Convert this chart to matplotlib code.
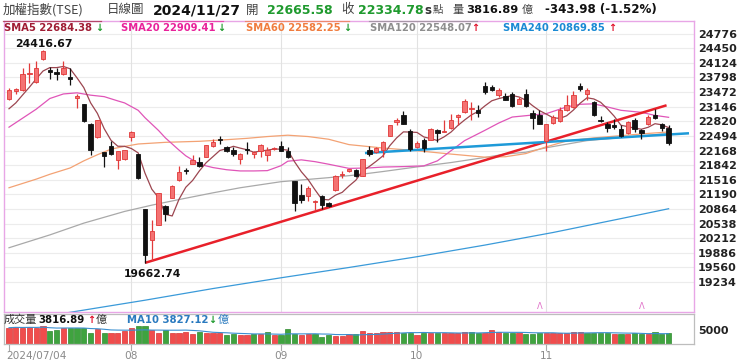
import numpy as np
import pandas as pd
import matplotlib
matplotlib.use("Agg")
import matplotlib.pyplot as plt
from matplotlib.lines import Line2D
from matplotlib.transforms import blended_transform_factory

plt.rcParams['font.family'] = ['DejaVu Sans', 'Noto Sans CJK TC']
CJK = ['Noto Sans CJK TC', 'DejaVu Sans']

# ---------------- data ----------------
opens = [23328, 23500, 23515, 23870, 23703, 24206, 23966, 23928, 23868, 23816,
         23343, 23200, 22765, 22464, 22126, 22261, 21961, 21976, 22479, 22089,
         20864, 20174, 20511, 20939, 21112, 21503, 21736, 21878, 21923, 22028,
         22261, 22418, 22253, 22186, 21976, 22200, 22088, 22148, 22074, 22200,
         22276, 22163, 21488, 21172, 21150, 21022, 21165, 21000, 21277, 21623,
         21713, 21728, 21600, 22179, 22126, 22179, 22502, 22802, 22952, 22614,
         22254, 22404, 22404, 22637, 22577, 22674, 22915, 23027, 23087, 23080,
         23605, 23590, 23403, 23380, 23440, 23215, 23440, 23012, 22952, 22389,
         22779, 22824, 23065, 23140, 23605, 23440, 23253, 22854, 22749, 22727,
         22652, 22554, 22839, 22629, 22764, 22952, 22770, 22665.58]
highs = [23553, 23560, 24004, 24131, 24154, 24416.67, 24041, 24004, 24169, 24004,
         23440, 23215, 22780, 22850, 22126, 22389, 22163, 22175, 22614, 22095,
         20870, 20609, 21215, 20962, 21390, 21826, 21788, 22066, 22014, 22300,
         22426, 22502, 22276, 22239, 22103, 22351, 22163, 22314, 22239, 22239,
         22389, 22239, 21490, 21413, 21375, 21075, 21187, 21010, 21623, 21713,
         21760, 21750, 21980, 22276, 22254, 22389, 22730, 22900, 23050, 22652,
         22389, 22449, 22660, 22652, 22840, 22990, 22990, 23328, 23253, 23178,
         23703, 23628, 23553, 23455, 23478, 23365, 23530, 23065, 23065, 22764,
         22952, 23140, 23403, 23500, 23680, 23553, 23275, 22930, 22802, 22877,
         22727, 22824, 22900, 22652, 22952, 23102, 22790, 22727]
lows = [23305, 23440, 23500, 23665, 23665, 24180, 23756, 23741, 23853, 23628,
        23125, 22800, 22074, 22450, 21803, 22074, 21766, 21960, 22389, 21540,
        19662.74, 19700, 20500, 20601, 21100, 21488, 21638, 21863, 21803, 22020,
        22239, 22314, 22126, 22051, 21863, 22088, 21991, 22028, 21938, 22179,
        22148, 21998, 20812, 21000, 21037, 20849, 20872, 20900, 21262, 21563,
        21680, 21585, 21595, 22051, 22111, 22013, 22495, 22727, 22760, 22164,
        22224, 22126, 22400, 22352, 22577, 22652, 22727, 23015, 22840, 22915,
        23440, 23500, 23365, 23290, 23140, 23200, 23140, 22652, 22749, 22164,
        22764, 22802, 23050, 23125, 23500, 23305, 22930, 22802, 22577, 22652,
        22479, 22539, 22577, 22427, 22741, 22877, 22599, 22300]
closes = [23515, 23530, 23876, 23890, 24019, 24390, 23913, 23876, 24019, 23756,
          23380, 22825, 22179, 22840, 22051, 22088, 22163, 22170, 22591, 21563,
          19830.88, 20376, 21210, 20752, 21375, 21690, 21720, 21968, 21818, 22291,
          22366, 22404, 22163, 22088, 22088, 22186, 22126, 22298, 22186, 22216,
          22163, 22013, 21000, 21075, 21337, 21037, 20962, 20925, 21600, 21653,
          21750, 21600, 21976, 22089, 22224, 22366, 22727, 22840, 22764, 22201,
          22329, 22224, 22652, 22554, 22614, 22854, 22952, 23275, 23117, 23005,
          23478, 23515, 23515, 23305, 23155, 23327, 23155, 22899, 22764, 22764,
          22915, 23080, 23193, 23403, 23530, 23515, 22952, 22824, 22674, 22704,
          22502, 22801, 22652, 22560, 22920, 22900, 22678.76, 22334.78]
prev_closes = [22880, 22990, 23020, 23095]

volumes = [5820, 6070, 5820, 6070, 5820, 6430, 4640, 4880, 5820, 5820,
           5820, 5820, 4050, 5240, 4050, 4050, 4050, 4640, 5820, 6430,
           6430, 4880, 4050, 4880, 4050, 4050, 4400, 3450, 4400, 3860,
           3860, 3860, 3220, 3450, 3220, 3220, 3450, 3450, 4400, 3220,
           3220, 5240, 3450, 3220, 3450, 3450, 2500, 3220, 2860, 2860,
           3450, 3450, 4640, 3860, 4050, 4400, 4400, 4400, 4050, 4050,
           3220, 4050, 3860, 3860, 4050, 3860, 3860, 4400, 4400, 3860,
           4050, 5000, 4400, 3860, 3860, 3860, 3450, 3450, 4050, 4050,
           4050, 3860, 3860, 4400, 4400, 4050, 3860, 3860, 4050, 3450,
           3450, 3450, 3860, 3450, 3450, 4400, 3450, 3816.89]

sma20_idx = [0, 4, 6, 8, 10, 12, 14, 16, 17, 19, 20, 22, 23, 25, 26, 28, 30, 32, 34,
             36, 38, 40, 41, 43, 45, 47, 50, 53, 55, 58, 61, 63, 65, 67, 70, 72, 74,
             77, 79, 82, 84, 86, 88, 90, 93, 95, 97]
sma20_val = [22689, 23090, 23328, 23430, 23455, 23403, 23370, 23275, 23230, 23065, 22900,
             22614, 22450, 22178, 22050, 21863, 21788, 21740, 21713, 21713, 21720, 21830,
             21930, 21960, 21920, 21863, 21770, 21780, 21800, 21810, 21826, 21938, 22164,
             22389, 22620, 22780, 22915, 22960, 22990, 23140, 23200, 23210, 23140, 23065,
             23020, 22952, 22909]
sma60_idx = [0, 4, 6, 9, 11, 13, 15, 17, 19, 23, 28, 32, 35, 38, 41, 44, 47, 50, 55,
             60, 65, 70, 73, 76, 79, 82, 86, 90, 94, 97]
sma60_val = [21338, 21530, 21638, 21780, 21938, 22074, 22200, 22260, 22314, 22351, 22374,
             22410, 22440, 22480, 22510, 22480, 22420, 22300, 22224, 22164, 22089, 22020,
             22030, 22100, 22250, 22380, 22450, 22500, 22550, 22582]
sma120_idx = [0, 6, 11, 17, 21, 25, 30, 34, 40, 47, 51, 55, 60, 65, 70, 73, 76, 79, 85, 91, 97]
sma120_val = [20000, 20286, 20549, 20810, 20950, 21075, 21225, 21338, 21473, 21563, 21623,
              21700, 21803, 21900, 22014, 22089, 22130, 22230, 22389, 22470, 22548]
sma240_idx = [0, 10, 20, 30, 40, 50, 60, 70, 80, 90, 97]
sma240_val = [18340, 18585, 18830, 19090, 19330, 19560, 19800, 20060, 20340, 20650, 20870]

red_trend_x = [20, 96.7]
red_trend_y = [19662.74, 23177]
blue_trend_x = [52.35, 100]
blue_trend_y = [22112, 22553]

event_idx = [78, 93]

ytick_vals = [24776, 24450, 24124, 23798, 23472, 23146, 22820, 22494, 22168,
              21842, 21516, 21190, 20864, 20538, 20212, 19886, 19560, 19234]
month_idx = [0, 18, 40, 60, 79]
month_labels = ['2024/07/04', '08', '09', '10', '11']

# ---------------- layout ----------------
W, H = 740, 364
fig = plt.figure(figsize=(W / 100, H / 100), dpi=100)
fig.patch.set_facecolor('white')

def fx(px):
    return px / W

def fy(py):
    return 1 - py / H

STEP = 6.8
X0 = 9
xl = (4 - X0) / STEP
xr = (694 - X0) / STEP

PINK = '#e8a6e6'
ax = fig.add_axes([fx(4), fy(312), (694 - 4) / W, (312 - 21) / H])
ax.set_xlim(xl, xr)
ax.set_ylim(18567, 25057)
for s in ax.spines.values():
    s.set_color(PINK)
    s.set_linewidth(1.0)
ax.set_xticks([])
ax.yaxis.tick_right()
ax.set_yticks(ytick_vals)
ax.set_yticklabels([str(v) for v in ytick_vals], fontsize=8, fontweight='bold', color='#222222')
ax.tick_params(axis='y', length=0, pad=3)
for v in ytick_vals:
    ax.axhline(v, color='#ececec', lw=0.8, zorder=0)
for m in month_idx[1:]:
    ax.axvline(m, color='#e2e2e2', lw=0.8, zorder=0)

n = len(closes)
idx = np.arange(n)

# moving averages
sma5 = pd.Series(prev_closes + closes).rolling(5).mean().values[len(prev_closes):]
ax.plot(sma240_idx, sma240_val, color='#3a9ad9', lw=0.9, zorder=2)
ax.plot(sma120_idx, sma120_val, color='#a9a9a9', lw=0.9, zorder=2)
ax.plot(sma60_idx, sma60_val, color='#f3a274', lw=0.9, zorder=2)
ax.plot(sma20_idx, sma20_val, color='#e055b8', lw=0.9, zorder=2)
ax.plot(idx, sma5, color='#9c4650', lw=0.9, zorder=2)

# trend lines
ax.plot(red_trend_x, red_trend_y, color='#e8202a', lw=1.8, zorder=3, solid_capstyle='butt')
ax.plot(blue_trend_x, blue_trend_y, color='#1e9ad8', lw=1.8, zorder=3, solid_capstyle='butt')

# candles
o = np.array(opens); h = np.array(highs); l = np.array(lows); c = np.array(closes)
up = c >= o
wick_col = np.where(up, '#e23b3b', '#111111')
ax.vlines(idx, l, h, colors=wick_col, lw=0.9, zorder=4)
body_bottom = np.minimum(o, c)
body_h = np.maximum(np.abs(c - o), 22)
ax.bar(idx[up], body_h[up], bottom=body_bottom[up], width=0.66,
       color='#f47272', edgecolor='#e03838', lw=0.6, zorder=5)
ax.bar(idx[~up], body_h[~up], bottom=body_bottom[~up], width=0.66,
       color='#111111', edgecolor='#111111', lw=0.6, zorder=5)

# high / low annotations
imax = int(np.argmax(h)); imin = int(np.argmin(l))
ax.annotate(f"{h[imax]:.2f}", (imax, h[imax]), xytext=(-28, 6), textcoords='offset pixels',
            ha='left', va='center', fontsize=7.8, fontweight='bold', color='#111111')
ax.annotate(f"{l[imin]:.2f}", (imin, l[imin]), xytext=(-21, -11), textcoords='offset pixels',
            ha='left', va='center', fontsize=7.8, fontweight='bold', color='#111111')

# event markers
trans = blended_transform_factory(ax.transData, ax.transAxes)
for e in event_idx:
    ax.text(e, 0.005, 'Λ', transform=trans, ha='center', va='bottom', fontsize=6,
            color='#e070c8')

# ---------------- volume panel ----------------
vax = fig.add_axes([fx(4), fy(344), (694 - 4) / W, 30 / H])
vax.set_xlim(xl, xr)
vax.set_ylim(0, 10710)
for s in vax.spines.values():
    s.set_color('#bdbdbd')
    s.set_linewidth(0.9)
vax.set_xticks([])
vax.yaxis.tick_right()
vax.set_yticks([5000])
vax.set_yticklabels(['5000'], fontsize=8, fontweight='bold', color='#222222')
vax.tick_params(axis='y', length=0, pad=3)
pc = np.array([prev_closes[-1]] + closes[:-1])
vup = c >= pc
vol = np.array(volumes)
vax.bar(idx[vup], vol[vup], width=0.74, color='#f04c4c', edgecolor='#d83434', lw=0.5, zorder=2)
vax.bar(idx[~vup], vol[~vup], width=0.74, color='#3fa33f', edgecolor='#2e8a2e', lw=0.5, zorder=2)
vma10 = pd.Series(volumes).rolling(10, min_periods=1).mean().values
vax.plot(idx, vma10, color='#3a8fd0', lw=0.8, zorder=3)

# ---------------- x labels & ticks ----------------
for m, lab in zip(month_idx, month_labels):
    px = X0 + STEP * m
    fig.add_artist(Line2D([fx(px), fx(px)], [fy(345), fy(350)], color='#aaaaaa', lw=0.8))
    if m == 0:
        fig.text(fx(6), fy(356), lab, ha='left', va='center', fontsize=7.6, color='#8a8a8a')
    else:
        fig.text(fx(px), fy(356), lab, ha='center', va='center', fontsize=7.6, color='#8a8a8a')

# ---------------- header ----------------
def ftext(x, y, s, **kw):
    fig.text(fx(x), fy(y), s, ha='left', va='center', **kw)

ftext(3, 10, '加權指數(TSE)', fontsize=9, color='#444444', family=CJK)
ftext(107, 10, '日線圖', fontsize=9, color='#444444', family=CJK)
ftext(153, 10, '2024/11/27', fontsize=10, fontweight='bold', color='#111111')
ftext(246, 10, '開', fontsize=9, color='#444444', family=CJK)
ftext(267, 10, '22665.58', fontsize=9, fontweight='bold', color='#1f9a2e')
ftext(341, 10, '收', fontsize=9, color='#444444', family=CJK)
ftext(358, 10, '22334.78', fontsize=9, fontweight='bold', color='#1f9a2e')
ftext(424, 10, 's', fontsize=8.5, fontweight='bold', color='#333333')
ftext(433, 10, '點', fontsize=7.5, color='#444444', family=CJK)
ftext(452, 10, '量', fontsize=8, color='#444444', family=CJK)
ftext(466, 10, '3816.89', fontsize=8.2, fontweight='bold', color='#111111')
ftext(522, 10, '億', fontsize=8, color='#444444', family=CJK)
ftext(545, 10, '-343.98 (-1.52%)', fontsize=8.6, fontweight='bold', color='#111111')

# SMA legend row
leg = [(4, 95, 'SMA5 22684.38', '#a01c34', '↓', '#1f9a2e'),
       (121, 217, 'SMA20 22909.41', '#e8229a', '↓', '#1f9a2e'),
       (246, 343, 'SMA60 22582.25', '#f07c3e', '↓', '#1f9a2e'),
       (370, 471, 'SMA120 22548.07', '#8e8e8e', '↑', '#e0102a'),
       (503, 608, 'SMA240 20869.85', '#1a8ad4', '↑', '#e0102a')]
for x0, xa, txt, col, arr, acol in leg:
    ftext(x0, 28, txt, fontsize=7.2, fontweight='bold', color=col)
    ftext(xa, 28, arr, fontsize=7.0, fontweight='bold', color=acol)
    if x0 < 500:
        fig.add_artist(Line2D([fx(x0 - 1), fx(xa + 6)], [fy(21), fy(21)], color=col, lw=0.9, alpha=0.7))

# volume legend
ftext(4, 320, '成交量', fontsize=8, color='#333333', family=CJK)
ftext(38, 320, '3816.89', fontsize=7.3, fontweight='bold', color='#111111')
ftext(87, 320, '↑', fontsize=7.0, fontweight='bold', color='#e0102a')
ftext(96, 320, '億', fontsize=8, color='#333333', family=CJK)
ftext(127, 320, 'MA10 3827.12', fontsize=7.3, fontweight='bold', color='#2a7abf')
ftext(208, 320, '↓', fontsize=7.0, fontweight='bold', color='#1f9a2e')
ftext(218, 320, '億', fontsize=8, color='#2a7abf', family=CJK)

fig.savefig('out.png', dpi=100, facecolor='white')
